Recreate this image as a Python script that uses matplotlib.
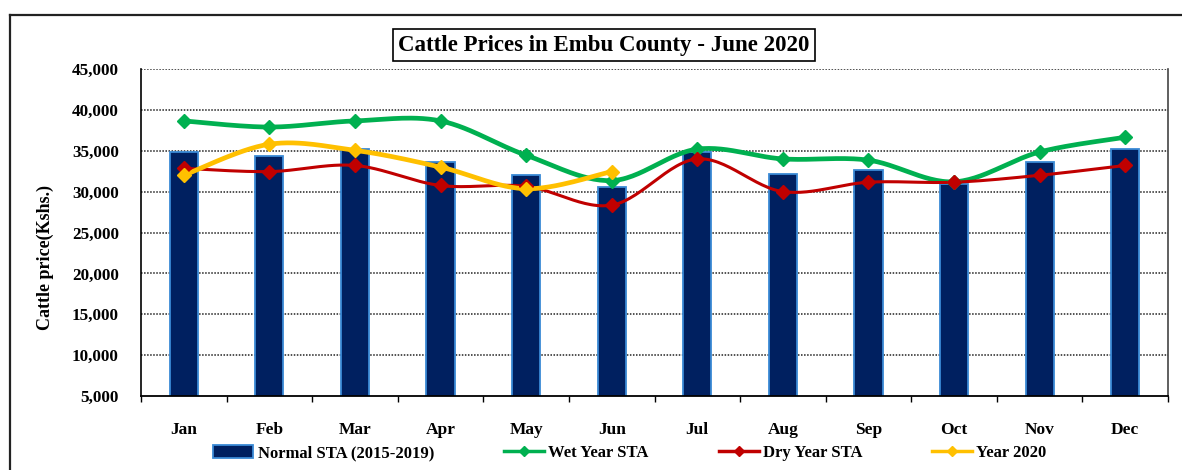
import numpy as np
import matplotlib
matplotlib.use("Agg")
import matplotlib.pyplot as plt
from matplotlib.patches import Patch
from matplotlib.lines import Line2D

plt.rcParams['font.family'] = ['Liberation Serif', 'DejaVu Serif']
plt.rcParams['font.weight'] = 'bold'

months = ['Jan', 'Feb', 'Mar', 'Apr', 'May', 'Jun',
          'Jul', 'Aug', 'Sep', 'Oct', 'Nov', 'Dec']
normal_sta = [34900, 34400, 35250, 33650, 32000, 30600,
              34800, 32200, 32650, 30900, 33650, 35250]
wet_year = [38650, 37900, 38650, 38650, 34450, 31350,
            35200, 34000, 33850, 31200, 34850, 36650]
dry_year = [32850, 32450, 33200, 30750, 30650, 28350,
            34000, 30000, 31150, 31150, 32000, 33200]
year_2020 = [32000, 35800, 35050, 33000, 30350, 32450]

NAVY = '#002060'
BAR_EDGE = '#3a8ad6'
GREEN = '#00b050'
RED = '#c00000'
YELLOW = '#ffc000'


def smooth(xs, ys, n=30):
    # Catmull-Rom curve through the points, like Excel's smoothed line
    pts = np.column_stack([xs, ys]).astype(float)
    p = np.vstack([pts[0], pts, pts[-1]])
    t = np.linspace(0, 1, n)[:, None]
    parts = []
    for i in range(1, len(p) - 2):
        p0, p1, p2, p3 = p[i - 1], p[i], p[i + 1], p[i + 2]
        seg = 0.5 * (2 * p1 + (p2 - p0) * t
                     + (2 * p0 - 5 * p1 + 4 * p2 - p3) * t ** 2
                     + (-p0 + 3 * p1 - 3 * p2 + p3) * t ** 3)
        parts.append(seg if i == 1 else seg[1:])
    c = np.vstack(parts)
    return c[:, 0], c[:, 1]


fig = plt.figure(figsize=(11.82, 4.70), dpi=100)
ax = fig.add_axes([141 / 1182, 74 / 470, 1027 / 1182, 327 / 470])

x = np.arange(len(months))
ax.bar(x, normal_sta, width=0.33, color=NAVY, edgecolor=BAR_EDGE,
       linewidth=1.3, zorder=2)

for vals, col, lw in [(wet_year, GREEN, 3.4), (dry_year, RED, 2.2),
                      (year_2020, YELLOW, 3.4)]:
    xi = x[:len(vals)]
    sx, sy = smooth(xi, vals)
    ax.plot(sx, sy, color=col, lw=lw, zorder=3, solid_capstyle='round')
    ax.plot(xi, vals, 'D', color=col, ms=7, zorder=4)

ax.set_xlim(-0.5, 11.5)
ax.set_ylim(5000, 45000)
ax.set_yticks(range(5000, 45001, 5000))
ax.set_yticklabels([f'{v:,}' for v in range(5000, 45001, 5000)])
ax.set_xticks(x)
ax.set_xticklabels(months)
ax.set_xticks(np.arange(-0.5, 12, 1), minor=True)
ax.tick_params(axis='x', which='major', length=0, pad=19, labelsize=12.5)
ax.tick_params(axis='x', which='minor', length=4.5, width=1, direction='out')
ax.tick_params(axis='y', length=0, pad=16, labelsize=12.3)

for v in range(10000, 45001, 5000):
    ax.axhline(v, color='#222222', lw=1.1, ls=(0, (1, 1)), zorder=1)

ax.spines['top'].set_visible(False)
ax.spines['right'].set_color('#444444')
ax.spines['right'].set_linewidth(1.2)
ax.spines['left'].set_linewidth(1.2)
ax.spines['bottom'].set_linewidth(1.3)

fig.text(45 / 1182, (470 - 257) / 470, 'Cattle price(Kshs.)', rotation=90,
         ha='center', va='center', fontsize=13, fontweight='bold')

fig.text(604 / 1182, (470 - 45) / 470, 'Cattle Prices in Embu County - June 2020',
         ha='center', va='center', fontsize=16.5, fontweight='bold',
         bbox=dict(boxstyle='square,pad=0.25', fc='white', ec='black', lw=1.2))

# outer chart frame
fig.add_artist(Line2D([10 / 1182, 1.0], [455 / 470, 455 / 470],
                      transform=fig.transFigure, color='#222222', lw=1.6))
fig.add_artist(Line2D([10 / 1182, 10 / 1182], [0, 455 / 470],
                      transform=fig.transFigure, color='#222222', lw=1.6))

handles = [
    Patch(facecolor=NAVY, edgecolor=BAR_EDGE, lw=1.3),
    Line2D([], [], color=GREEN, lw=2.5, marker='D', ms=5),
    Line2D([], [], color=RED, lw=2.5, marker='D', ms=5),
    Line2D([], [], color=YELLOW, lw=2.5, marker='D', ms=5),
]
labels = ['Normal STA (2015-2019)', 'Wet Year STA', 'Dry Year STA', 'Year 2020']
fig.legend(handles, labels, loc='center', bbox_to_anchor=(630 / 1182, 17 / 470),
           ncol=4, frameon=False, fontsize=12, handlelength=2.4,
           handleheight=0.8, handletextpad=0.25, columnspacing=4.2)

fig.savefig('out.png', dpi=100)
